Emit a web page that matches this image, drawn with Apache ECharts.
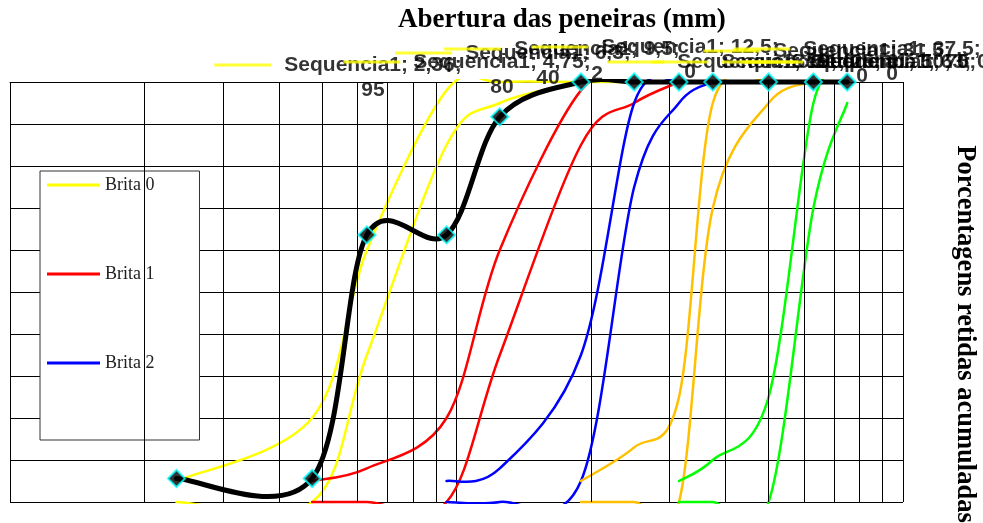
<!DOCTYPE html>
<html><head><meta charset="utf-8">
<script src="https://cdn.jsdelivr.net/npm/echarts@6/dist/echarts.min.js"></script>
<style>html,body{margin:0;padding:0;background:#fff}#c{width:983px;height:523px}</style>
</head><body><div id="c"></div>
<script>
// Aberturas das peneiras (mm)
const sieves = [2.36, 4.75, 6.3, 9.5, 12.5, 19, 25, 31.5, 37.5, 50, 63, 75];
// Porcentagens retidas acumuladas (limites NBR 7211), null = sem valor
const brita0Lower = [95, 80, 40, 2, 0, 0, 0, 0, 0, 0, 0, 0];          // Sequencia1
const brita0Upper = [100, 100, 65, 15, 5, 0, null, null, null, null, null, null];
const brita1Lower = [null, 95, 92, 80, 40, 2, 0, null, null, null, null, null];
const brita1Upper = [null, 100, 100, 100, 65, 15, 5, 0, null, null, null, null];
const brita2Lower = [null, null, null, 95, 92, 65, 5, 0, null, null, null, null];
const brita2Upper = [null, null, null, 100, 100, 95, 25, 5, 0, null, null, null];
const brita3Lower = [null, null, null, null, null, 95, 87, 75, 5, 0, null, null];
const brita3Upper = [null, null, null, null, null, 100, 100, 100, 30, 5, 0, null];
const brita4Lower = [null, null, null, null, null, null, null, 95, 90, 75, 5, 0];
const brita4Upper = [null, null, null, null, null, null, null, 100, 100, 100, 30, 5];
const amostra = [94.4, 94.4, 36.4, 36.4, 8.3, 0, 0, 0, 0, 0, 0, 0];
// minor vertical grid values of the log axis
const minorGrid = [2, 3, 4, 5, 6, 7, 8, 9, 20, 30, 40, 50, 60, 70, 80, 90];
const legendNames = ['Brita 0', 'Brita 1', 'Brita 2'];

// label placement (layout only): [text centre x, first line y, two lines?]
const labelSpots = [[373,65,1],[502,62,1],[548,53,1],[597,49,1],[690,47,1],[766,62,0],[810,62,0],[862,51,1],[892,49,1],[880,62,0],[900,62,0],[905,62,0]];

function pairs(vals){ const out=[]; sieves.forEach((s,i)=>{ if(vals[i]!=null) out.push([s, vals[i]]); }); return out; }
const fmt = v => String(v).replace('.', ',');

const curves = [
  {name:'Sequencia1', color:'#ffff00', vals: brita0Lower},
  {name:'Brita 0', color:'#ffff00', vals: brita0Upper},
  {name:'Brita 1', color:'#ff0000', vals: brita1Lower},
  {name:'Brita 1', color:'#ff0000', vals: brita1Upper},
  {name:'Brita 2', color:'#0000ff', vals: brita2Lower},
  {name:'Brita 2', color:'#0000ff', vals: brita2Upper},
  {name:'Brita 3', color:'#ffc000', vals: brita3Lower},
  {name:'Brita 3', color:'#ffc000', vals: brita3Upper},
  {name:'Brita 4', color:'#00ff00', vals: brita4Lower},
  {name:'Brita 4', color:'#00ff00', vals: brita4Upper}
];

// Excel-like smoothed path (Catmull-Rom as cubic Bezier) through pixel points from the axes
function smoothPath(P){
  const n = P.length; if (n < 2) return '';
  let d = 'M' + P[0][0] + ' ' + P[0][1];
  for (let i = 0; i < n - 1; i++){
    const p0 = P[Math.max(0, i-1)], p1 = P[i], p2 = P[i+1], p3 = P[Math.min(n-1, i+2)];
    const c1x = p1[0] + (p2[0]-p0[0])/6, c1y = p1[1] + (p2[1]-p0[1])/6;
    const c2x = p2[0] - (p3[0]-p1[0])/6, c2y = p2[1] - (p3[1]-p1[1])/6;
    d += ' C' + c1x + ' ' + c1y + ' ' + c2x + ' ' + c2y + ' ' + p2[0] + ' ' + p2[1];
  }
  return d;
}
function curveSeries(name, color, width, pts, z){
  return {
    type:'custom', name:name, data:pts, clip:false, z:z, silent:true, animation:false,
    itemStyle:{color:color},
    renderItem:function(params, api){
      if (params.dataIndex !== 0) return null;
      const P = pts.map(p => api.coord(p));
      const cs = params.coordSys;
      return {type:'path', shape:{pathData: smoothPath(P)},
        style:{stroke:color, lineWidth:width, fill:'none', lineJoin:'round', lineCap:'round'},
        clipPath:{type:'rect', shape:{x:cs.x-3, y:cs.y-3, width:cs.width+6, height:cs.height+5}}};
    }
  };
}

const chart = echarts.init(document.getElementById('c'), null, {renderer:'canvas'});

function buildOption(labelOffsets){
  const series = [];
  series.push({
    type:'line', name:'grade', data:[], silent:true, z:1,
    markLine:{silent:true, symbol:'none', animation:false, label:{show:false},
      lineStyle:{color:'#000', width:1, type:'solid'},
      data: minorGrid.map(v=>({xAxis:v}))}
  });
  curves.forEach(c=> series.push(curveSeries(c.name, c.color, 2.5, pairs(c.vals), 3)));
  const lblData = pairs(brita0Lower).map((p,i)=>{
    const item = {value:p};
    if (labelOffsets) item.label = {offset: labelOffsets[i]};
    return item;
  });
  series.push({
    type:'scatter', name:'Sequencia1', data: lblData, symbolSize:1, clip:false, silent:true, z:4,
    itemStyle:{color:'rgba(0,0,0,0)'}, animation:false,
    label:{show: !!labelOffsets, position:'inside', align:'center', verticalAlign:'middle',
      formatter: function(p){
        const i = p.dataIndex; const xs = fmt(p.value[0]); const v = fmt(p.value[1]);
        return labelSpots[i][2] ? `{k|}{g|}{t|Sequencia1; ${xs};}\n{s|}{t|${v}}` : `{k|}{g|}{t|Sequencia1; ${xs}; ${v}}`;
      },
      rich:{
        k:{width:57, height:3, backgroundColor:'#ffff00'},
        g:{width:13},
        s:{width:70},
        t:{fontFamily:'Liberation Sans', fontWeight:'bold', fontSize:21, lineHeight:25, color:'#000'}
      }}
  });
  series.push(curveSeries('Amostra', '#000', 5, pairs(amostra), 6));
  series.push({type:'scatter', name:'Amostra', data:pairs(amostra), symbol:'diamond', symbolSize:17, silent:true,
    itemStyle:{color:'#000', borderColor:'#00ffff', borderWidth:2}, z:7, animation:false});
  return {
    animation:false,
    backgroundColor:'#fff',
    title:{text:'Abertura das peneiras (mm)', left:398, top:3, padding:[4,0,4,0],
      textStyle:{fontFamily:'Liberation Serif', fontWeight:'bold', fontSize:27, color:'#000'}},
    legend:{data:legendNames, orient:'vertical', left:40, top:171, backgroundColor:'#fff', borderColor:'#333', borderWidth:1,
      padding:[5,45,68,7], icon:'rect', itemWidth:53, itemHeight:3, itemGap:71, selectedMode:false,
      textStyle:{fontFamily:'Liberation Serif', fontSize:18, color:'#222'}},
    grid:{left:10, top:82, width:893, height:420, containLabel:false, outerBoundsMode:'none'},
    xAxis:{type:'log', logBase:10, min:1, max:100,
      axisLine:{show:true, lineStyle:{color:'#000'}}, axisTick:{show:false}, axisLabel:{show:false},
      splitLine:{show:true, lineStyle:{color:'#000', width:1}}},
    yAxis:{type:'value', inverse:true, min:0, max:100, interval:10, position:'right',
      name:'Porcentagens retidas acumuladas', nameLocation:'middle', nameRotate:-90, nameGap:48,
      nameTextStyle:{fontFamily:'Liberation Serif', fontWeight:'bold', fontSize:26.5, color:'#000', padding:[0,0,0,84]},
      axisLine:{show:false}, axisTick:{show:false}, axisLabel:{show:false},
      splitLine:{show:true, lineStyle:{color:'#000', width:1}}},
    series
  };
}

chart.setOption(buildOption(null));
const lblIndex = 1 + curves.length;
const offsets = pairs(brita0Lower).map((p,i)=>{
  const px = chart.convertToPixel({seriesIndex: lblIndex}, p);
  const L = labelSpots[i];
  const cx = L[0] - 35, cy = L[2] ? L[1] + 12.5 : L[1];
  return [cx - px[0], cy - px[1]];
});
chart.setOption(buildOption(offsets));
</script>
</body></html>
